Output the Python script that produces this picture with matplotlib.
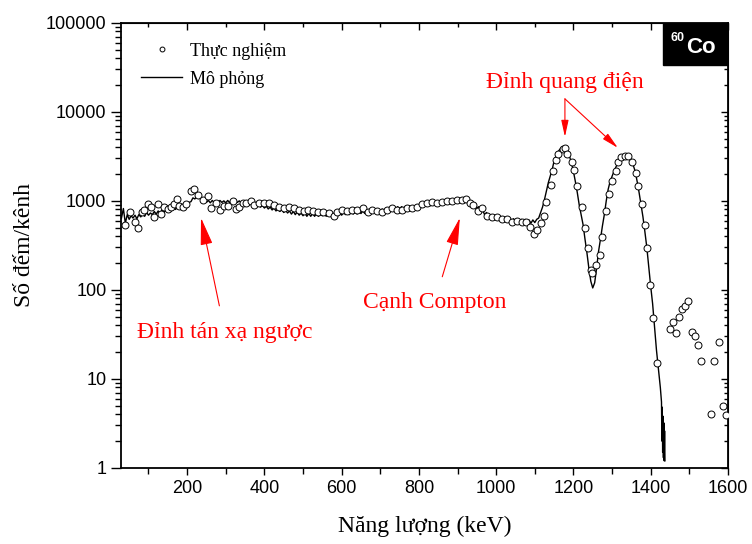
import numpy as np
import matplotlib.pyplot as plt
from matplotlib.patches import Rectangle
from matplotlib.ticker import LogLocator, NullFormatter

# experimental spectrum (keV, counts/channel)
exp_e = [38, 51, 64, 74, 82, 89, 100, 107, 115, 125, 133, 141, 151, 159, 167, 174, 179, 190, 197,
         210, 218, 228, 241, 254, 262, 275, 285, 295, 306, 319, 326, 334, 344, 352, 365,
         373, 386, 399, 411, 424, 437, 450, 463, 476, 489, 502, 514, 527, 540, 553, 566, 579, 589,
         602, 615, 628, 641, 654, 667, 679, 692, 705, 718, 731, 744, 757, 770, 782, 795, 808, 821,
         834, 847, 860, 873, 886, 898, 911, 922, 932, 940, 953, 963, 976, 989, 1002, 1014, 1027,
         1040, 1053, 1066, 1076, 1087, 1099, 1105, 1115, 1123, 1130, 1141, 1146, 1156, 1161, 1172,
         1179, 1184, 1197, 1202, 1210, 1221, 1231, 1239, 1246, 1249, 1259, 1270, 1275, 1285, 1293,
         1300, 1311, 1316, 1324, 1334, 1342, 1352, 1362, 1368, 1378, 1386, 1391, 1398, 1406, 1416,
         1450, 1458, 1465, 1473, 1481, 1489, 1496, 1507, 1514, 1522, 1530, 1556, 1563, 1576, 1587, 1594]
exp_c = [540, 740, 580, 490, 740, 790, 910, 850, 660, 930, 720, 850, 820, 860, 920, 1050, 880, 860, 920,
         1300, 1370, 1170, 1030, 1140, 840, 950, 780, 870, 870, 1000, 820, 860, 950, 950, 1000,
         906, 955, 955, 955, 906, 860, 838, 860, 838, 795, 775, 795, 775, 755, 755, 736, 681, 755,
         795, 775, 795, 795, 838, 755, 795, 775, 755, 795, 838, 795, 795, 838, 838, 860, 910, 955,
         980, 955, 980, 1000, 1000, 1030, 1030, 1050, 955, 906, 760, 838, 680, 665, 650, 620, 630,
         580, 600, 580, 580, 510, 425, 470, 567, 680, 980, 1520, 2140, 2900, 3400, 3800,
         3880, 3330, 2760, 2240, 1450, 860, 500, 297, 166, 155, 190, 247, 395, 760, 1180,
         1650, 2140, 2760, 3080, 3230, 3160, 2760, 2080, 1450, 910, 540, 297, 113, 48, 15,
         36, 44, 33, 49, 61, 66, 75, 34, 30, 24, 16, 4.0, 16, 26, 4.9, 3.9]

# simulated spectrum, 5 keV channels from 30 keV to 1425 keV
sim_start, sim_step = 30, 5
sim_c = [640, 820, 560, 700, 620, 680, 640, 690, 630, 700,
         660, 720, 670, 740, 690, 730, 700, 760, 710, 770,
         730, 790, 740, 800, 760, 820, 780, 840, 800, 860,
         820, 880, 850, 910, 890, 960, 980, 1080, 1050, 1120,
         1060, 1080, 1000, 1040, 960, 1010, 950, 1010, 960, 1000,
         950, 1010, 960, 1000, 950, 1010, 960, 1000, 950, 1010,
         960, 1000, 950, 990, 930, 970, 900, 950, 890, 930,
         860, 910, 850, 890, 830, 870, 810, 850, 790, 830,
         770, 810, 760, 800, 740, 780, 730, 770, 710, 760,
         700, 750, 690, 730, 680, 730, 670, 720, 670, 720,
         670, 720, 670, 720, 680, 720, 670, 730, 680, 730,
         680, 730, 690, 740, 690, 740, 700, 750, 700, 750,
         710, 760, 710, 760, 720, 770, 720, 780, 730, 780,
         740, 790, 750, 800, 760, 810, 770, 830, 780, 840,
         790, 850, 800, 860, 810, 860, 820, 870, 830, 880,
         830, 880, 840, 890, 850, 900, 860, 910, 870, 920,
         880, 930, 890, 940, 900, 950, 910, 960, 920, 970,
         930, 980, 940, 990, 950, 1000, 960, 1010, 960, 1000,
         950, 980, 900, 920, 830, 860, 760, 790, 700, 740,
         660, 700, 640, 680, 620, 660, 610, 650, 600, 640,
         590, 640, 590, 630, 580, 630, 580, 620, 570, 620,
         570, 610, 560, 610, 570, 620, 640, 740,
         850, 1030, 1280, 1600, 1900, 2250, 2800, 3200, 3550, 3800,
         3900, 3950, 3850, 3550, 3150, 2650, 2140, 1650, 1240, 900,
         700, 540, 370, 260, 175, 125, 105, 120, 175, 270,
         370, 520, 700, 1000, 1350, 1650, 1880, 2150, 2400, 2650,
         2900, 3080, 3200, 3230, 3150, 3000, 2850, 2500, 2140, 1650,
         1240, 900, 660, 450, 300, 180, 110, 70, 38, 21,
         13, 8]
sim_e = list(np.arange(len(sim_c)) * sim_step + sim_start)
# noisy end of the simulated spectrum
tail_e = [1428, 1429, 1430, 1431, 1432, 1433, 1434, 1435, 1436, 1437]
tail_c = [5.5, 2.0, 4.8, 1.5, 3.8, 1.3, 3.2, 1.2, 2.6, 1.2]

xticks = [200, 400, 600, 800, 1000, 1200, 1400, 1600]

serif = ['Liberation Serif', 'DejaVu Serif']
sans = ['Liberation Sans', 'DejaVu Sans']
plt.rcParams['font.family'] = sans

fig = plt.figure(figsize=(7.52, 5.44), dpi=100)
ax = fig.add_axes([0.161, 0.14, 0.807, 0.818])

ax.plot(sim_e + tail_e, sim_c + tail_c, color='black', lw=1.0, label='Mô phỏng', zorder=2)
ax.plot(exp_e, exp_c, ls='none', marker='o', ms=5, mfc='white', mec='black', mew=0.7,
        label='Thực nghiệm', zorder=3)

ax.set_yscale('log')
ax.set_xlim(29, 1600)
ax.set_ylim(1, 100000)
ax.set_xticks(xticks)
ax.set_xticks(range(100, 1600, 200), minor=True)
ax.set_yticks([1, 10, 100, 1000, 10000, 100000])
ax.set_yticklabels(['1', '10', '100', '1000', '10000', '100000'])
ax.yaxis.set_minor_locator(LogLocator(base=10, subs=range(2, 10), numticks=20))
ax.yaxis.set_minor_formatter(NullFormatter())

ax.tick_params(axis='both', which='major', labelsize=13, width=1, color='black')
ax.tick_params(axis='x', which='major', length=5)
ax.tick_params(axis='x', which='minor', length=4, width=1)
ax.tick_params(axis='y', which='major', length=7)
ax.tick_params(axis='y', which='minor', length=4, width=1)
ax.tick_params(axis='both', which='both', direction='out', top=False, right=False)
for sp in ax.spines.values():
    sp.set_linewidth(1.3)

# top and right ticks point inwards in the original
secx = ax.secondary_xaxis('top')
secx.set_xticks(xticks)
secx.set_xticks(range(100, 1600, 200), minor=True)
secx.tick_params(which='both', direction='in', labeltop=False, length=5, width=1)
secx.tick_params(which='minor', length=3)
secy = ax.secondary_yaxis('right')
secy.set_yscale('log')
secy.set_yticks([1, 10, 100, 1000, 10000, 100000])
secy.yaxis.set_minor_locator(LogLocator(base=10, subs=range(2, 10), numticks=20))
secy.tick_params(which='both', direction='in', labelright=False, length=5, width=1)
secy.tick_params(which='minor', length=3)

ax.set_xlabel('Năng lượng (keV)', fontsize=17, family=serif, labelpad=14)
ax.set_ylabel('Số đếm/kênh', fontsize=17, family=serif, labelpad=8)

handles, labels = ax.get_legend_handles_labels()
leg = ax.legend(handles[::-1], labels[::-1], loc='upper left', frameon=False,
                prop={'family': serif, 'size': 13}, markerscale=0.7,
                handlelength=2.3, handletextpad=0.4, borderaxespad=0.7, labelspacing=0.6)

red = 'red'
arrow = dict(arrowstyle='-|>,head_length=1.0,head_width=0.22', color=red, lw=0.8,
             shrinkA=0, shrinkB=0)
ax.text(1178, 21200, 'Đỉnh quang điện', color=red, fontsize=17, family=serif,
        ha='center', va='center')
ax.annotate('', xy=(1178, 5240), xytext=(1178, 14000), arrowprops=arrow)
ax.annotate('', xy=(1315, 3940), xytext=(1178, 14000), arrowprops=arrow)
ax.annotate('Cạnh Compton', xy=(906, 644), xytext=(841, 73), color=red, fontsize=17,
            family=serif, ha='center', va='center', arrowprops=dict(arrow, shrinkA=9))
ax.annotate('Đỉnh tán xạ ngược', xy=(236, 644), xytext=(298, 33), color=red, fontsize=17,
            family=serif, ha='center', va='center', arrowprops=dict(arrow, shrinkA=10))

# source label box
ax.add_patch(Rectangle((0.893, 0.905), 0.107, 0.095, transform=ax.transAxes,
                       facecolor='black', edgecolor='black', zorder=4))
ax.text(0.905, 0.965, '60', transform=ax.transAxes, color='white', fontsize=9,
        fontweight='bold', ha='left', va='center', zorder=5)
ax.text(0.955, 0.945, 'Co', transform=ax.transAxes, color='white', fontsize=16,
        fontweight='bold', ha='center', va='center', zorder=5)

fig.savefig('out.png', dpi=100, facecolor='white')
